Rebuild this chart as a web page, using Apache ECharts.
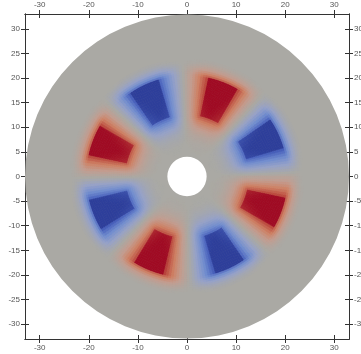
<!DOCTYPE html>
<html><head><meta charset="utf-8">
<script src="https://cdn.jsdelivr.net/npm/echarts@6/dist/echarts.min.js"></script>
<style>html,body{margin:0;padding:0;background:#fff}#c{width:361px;height:354px}</style>
</head><body><div id="c"></div>
<script>
// ---- data ----
const xTickValues = [-30, -20, -10, 0, 10, 20, 30];
const yTickValues = [-30, -25, -20, -15, -10, -5, 0, 5, 10, 15, 20, 25, 30];
const lobeAngles = [25, 69, 116, 159, 203, 248, 295, 339];     // degrees
const lobeSigns  = [-1, 1, -1, 1, -1, 1, -1, 1];
const coreInner = 12.7, coreOuter = 20.4, coreHalfAngle = 9;   // saturated core of each lobe
const haloDist  = [0, 1, 2, 3, 4, 5, 6, 7, 8, 9];              // distance from core edge
const haloValue = [0.8, 0.62, 0.48, 0.36, 0.26, 0.18, 0.11, 0.06, 0.02, 0];
const outwardStretch = 2.5;
const innerRadius = 4, outerRadius = 33;

function lookup(xs, vs, x) {
  if (x <= xs[0]) return vs[0];
  for (let i = 1; i < xs.length; i++) {
    if (x <= xs[i]) { const t = (x - xs[i-1]) / (xs[i] - xs[i-1]); return vs[i-1] + t * (vs[i] - vs[i-1]); }
  }
  return vs[vs.length - 1];
}
function field(r, a) {
  let s = 0;
  for (let k = 0; k < lobeAngles.length; k++) {
    const d = Math.abs(((a - lobeAngles[k]) % 360 + 540) % 360 - 180);
    if (d > 80) continue;
    const dt = Math.max(0, d - coreHalfAngle) * Math.PI / 180 * r;
    const drr = r > coreOuter ? (r - coreOuter) * outwardStretch : (r < coreInner ? coreInner - r : 0);
    const dist = Math.hypot(dt, drr);
    s += lobeSigns[k] * (dist === 0 ? 1 : lookup(haloDist, haloValue, dist));
  }
  return Math.max(-1, Math.min(1, s));
}
// first item: the whole annulus at value 0; then the coloured cells
const cells = [[innerRadius, outerRadius, 0, 360, 0]];
const dr = 0.4, da = 1.5;
for (let r = 5; r < 24; r += dr) {
  for (let a = 0; a < 360; a += da) {
    const v = field(r + dr / 2, a + da / 2);
    if (Math.abs(v) > 0.006) cells.push([r, r + dr, a, a + da, v]);
  }
}

const axisColor = '#333';
const labelStyle = { fontSize: 8, color: '#555', fontFamily: 'Liberation Sans', margin: 5 };
function xAx(pos, inside, label) {
  return { type: 'value', min: -33, max: 33, position: pos,
    axisLine: { show: true, onZero: false, lineStyle: { color: axisColor, width: 1 } },
    axisTick: { show: true, inside: inside, length: 4, customValues: xTickValues, lineStyle: { color: axisColor, width: 1 } },
    axisLabel: Object.assign({ show: label, customValues: xTickValues }, labelStyle),
    splitLine: { show: false } };
}
function yAx(pos, inside, label) {
  return { type: 'value', min: -33, max: 33, position: pos,
    axisLine: { show: true, onZero: false, lineStyle: { color: axisColor, width: 1 } },
    axisTick: { show: true, inside: inside, length: 4, customValues: yTickValues, lineStyle: { color: axisColor, width: 1 } },
    axisLabel: Object.assign({ show: label, customValues: yTickValues }, labelStyle),
    splitLine: { show: false } };
}
const chart = echarts.init(document.getElementById('c'), null, { renderer: 'canvas' });
chart.setOption({
  animation: false,
  grid: { left: 25, right: 12, top: 14, bottom: 15, containLabel: false, outerBoundsMode: 'none' },
  xAxis: [xAx('bottom', false, true), xAx('bottom', true, false), xAx('top', false, true), xAx('top', true, false)],
  yAxis: [yAx('left', false, true), yAx('left', true, false), yAx('right', false, true), yAx('right', true, false)],
  visualMap: { show: false, type: 'continuous', dimension: 4, min: -1, max: 1, seriesIndex: 0,
    inRange: { color: ['#2d3e9b', '#4a63bf', '#728ed0', '#97a2c8', '#aaa9a4', '#c39d90', '#cf8164', '#bd4a3e', '#a00a23'] } },
  series: [{
    type: 'custom', xAxisIndex: 0, yAxisIndex: 0, data: cells, clip: true,
    renderItem: function (params, api) {
      const r0 = api.value(0), r1 = api.value(1);
      const c = api.visual('color');
      if (api.value(3) - api.value(2) >= 360) {
        const ctr = api.coord([0, 0]);
        const rx = api.size([r1, 0])[0], rin = api.size([r0, 0])[0];
        return { type: 'ring', shape: { cx: ctr[0], cy: ctr[1], r: rx, r0: rin }, style: { fill: c }, silent: true };
      }
      const a0 = api.value(2) * Math.PI / 180, a1 = api.value(3) * Math.PI / 180;
      const pts = [
        api.coord([r0 * Math.cos(a0), r0 * Math.sin(a0)]),
        api.coord([r1 * Math.cos(a0), r1 * Math.sin(a0)]),
        api.coord([r1 * Math.cos(a1), r1 * Math.sin(a1)]),
        api.coord([r0 * Math.cos(a1), r0 * Math.sin(a1)])
      ];
      return { type: 'polygon', shape: { points: pts }, style: { fill: c, stroke: c, lineWidth: 0.6 }, silent: true };
    }
  }]
});
</script></body></html>
